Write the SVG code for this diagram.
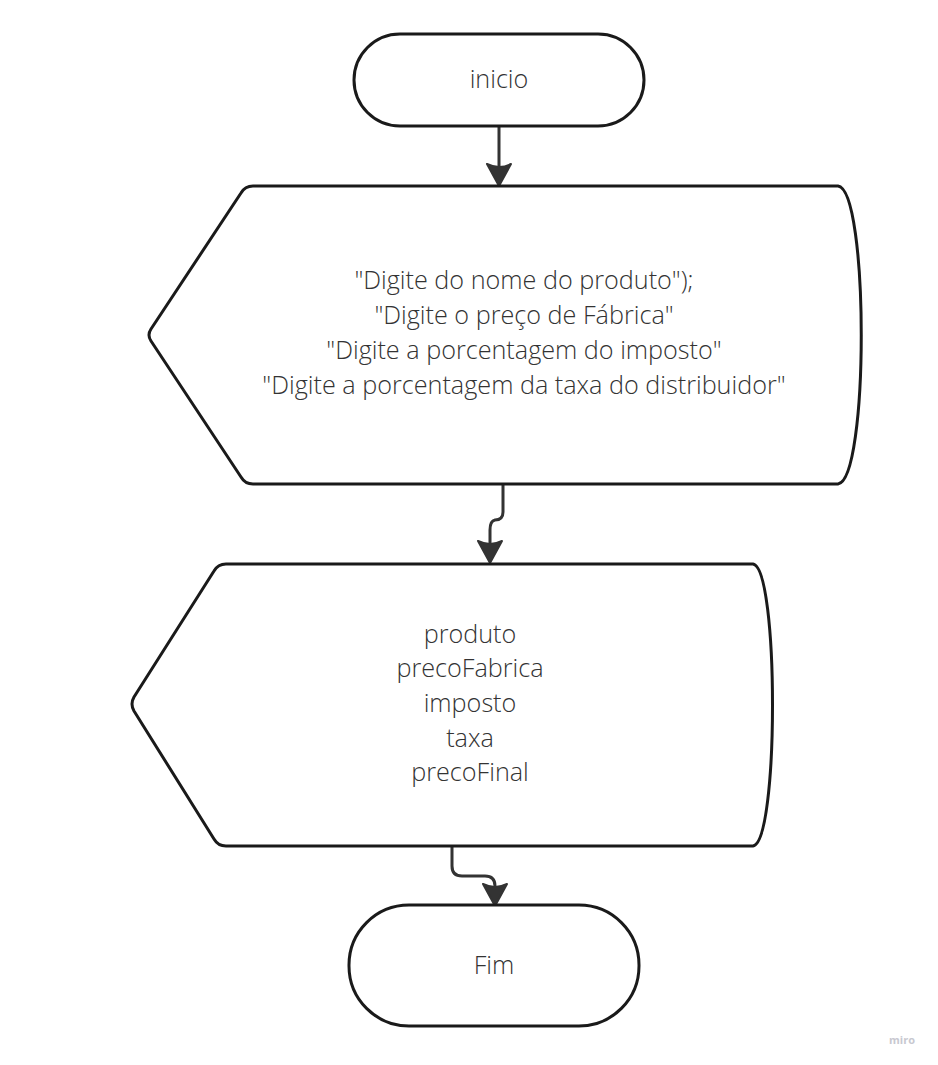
<svg xmlns="http://www.w3.org/2000/svg" width="938" height="1065" viewBox="0 0 938 1065">
<style>
.shape{fill:#ffffff;stroke:#1a1a1a;stroke-width:3;stroke-linejoin:round}
.conn{fill:none;stroke:#333333;stroke-width:3;stroke-linecap:round;stroke-linejoin:round}
.head{fill:#333333;stroke:#333333;stroke-width:2;stroke-linejoin:round}
.lbl{font-family:"Open Sans","Liberation Sans",sans-serif;font-size:25.2px;font-weight:300;fill:#333333;text-anchor:middle}
.wm{font-family:"Open Sans","Liberation Sans",sans-serif;font-size:11px;font-weight:bold;fill:#c8c8d0;text-anchor:middle}
</style>
<rect width="938" height="1065" fill="#ffffff"/>
<g id="connectors">
<path class="conn" d="M499 126 L499 168"/>
<path class="head" d="M487 164 Q499 170 511 164 L499 186 Z"/>
<path class="conn" d="M503 484 L503 512 Q503 520 495 520 Q490 521 490 530 L490 545"/>
<path class="head" d="M478 541 Q490 547 502 541 L490 563 Z"/>
<path class="conn" d="M452 846 L452 866 Q452 876 462 876 L485 876 Q495 876 495 886 L495 889"/>
<path class="head" d="M483 884 Q495 890 507 884 L495 906 Z"/>
</g>
<g id="node-inicio">
<rect class="shape" x="354" y="34" width="290" height="92" rx="46" ry="46"/>
<text class="lbl" x="499" y="88">inicio</text>
</g>
<g id="node-entrada">
<path class="shape" d="M253 186 L838 186 C869 190 869 480 838 484 L253 484 Q245 484 241 477 L151 341 Q147 335 151 329 L241 193 Q245 186 253 186 Z"/>
<text class="lbl" x="524" y="289">"Digite do nome do produto");</text>
<text class="lbl" x="524" y="324">"Digite o preço de Fábrica"</text>
<text class="lbl" x="524" y="359">"Digite a porcentagem do imposto"</text>
<text class="lbl" x="524" y="394">"Digite a porcentagem da taxa do distribuidor"</text>
</g>
<g id="node-saida">
<path class="shape" d="M226 564 L753 564 C779 568 779 842 753 846 L226 846 Q218 846 214 839 L134 711 Q130 704 134 697 L214 571 Q218 564 226 564 Z"/>
<text class="lbl" x="470" y="643">produto</text>
<text class="lbl" x="470" y="677">precoFabrica</text>
<text class="lbl" x="470" y="712">imposto</text>
<text class="lbl" x="470" y="747">taxa</text>
<text class="lbl" x="470" y="781">precoFinal</text>
</g>
<g id="node-fim">
<rect class="shape" x="349" y="905" width="290" height="121" rx="60" ry="60"/>
<text class="lbl" x="494" y="974">Fim</text>
</g>
<text class="wm" x="902" y="1044">miro</text>
</svg>
